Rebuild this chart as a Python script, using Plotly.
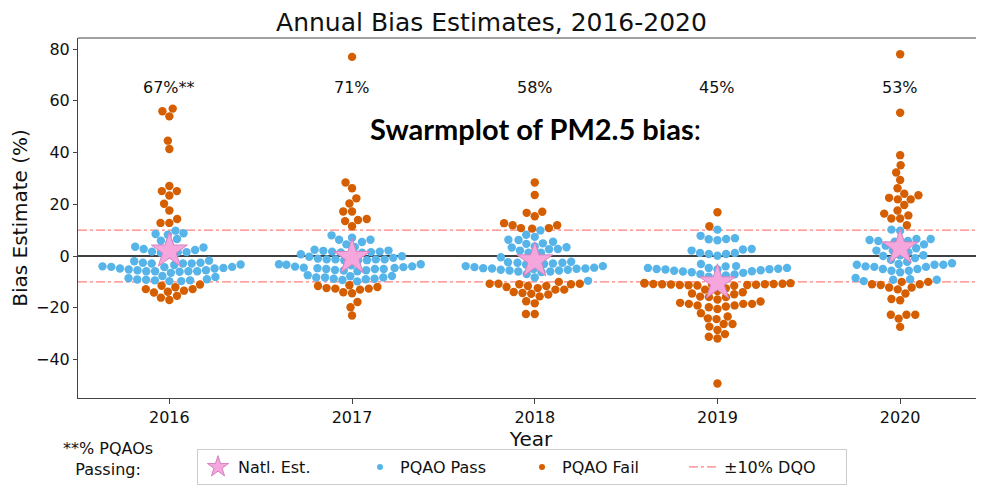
import numpy as np
import plotly.graph_objects as go

# ---------------- data ----------------
years = ["2016", "2017", "2018", "2019", "2020"]
pct_labels = ["67%**", "71%", "58%", "45%", "53%"]
natl_est = [2.0, -0.5, -1.8, -10.3, 3.2]

pass_2016 = [9.8, 8.8, 8.5, 8.2, 6.6, 5.9, 5.0, 3.6, 3.3, 2.7, 2.3, 1.7, 1.5, 1.5, 1.3, 0.5,
             -1.8, -2.0, -2.6, -2.6, -2.9, -2.9, -2.9, -3.3, -3.5,
             -4.0, -4.2, -4.2, -4.3, -4.6, -4.8, -4.8, -5.2, -5.5, -5.5, -5.9, -5.9, -5.9, -5.9, -6.1, -6.5,
             -7.7, -8.1, -8.6, -9.0, -9.1, -9.2, -9.4, -9.4, -9.7, -9.7]
fail_2016 = [57.0, 56.0, 54.0, 44.6, 41.4, 27.1, 25.1, 25.1, 23.4, 20.2, 17.6, 14.3, 12.8, 12.8,
             -11.0, -11.5, -12.1, -12.8, -12.8, -13.4, -13.8, -14.1, -15.4, -16.1, -17.0]

pass_2017 = [8.0, 7.1, 6.3, 6.3, 5.4, 4.5, 3.5,
             2.4, 2.1, 1.7, 1.4, 1.3, 1.7, 1.5, 2.0, 0.7, 0.5,
             -0.1, -1.0, -1.3, -1.3, -1.6, -1.6, -1.6, -1.3, -1.3, -0.7, -0.3,
             -3.2, -3.4, -4.1, -4.5, -4.7, -5.0, -5.4, -5.6, -5.9, -5.5, -5.0, -5.0, -4.6, -4.3, -4.0, -3.6, -3.2,
             -7.7, -8.3, -8.8, -9.3, -9.8, -8.8, -8.3, -8.3, -7.8, -7.4, -9.0]
fail_2017 = [77.0, 28.4, 26.2, 22.3, 20.3, 17.2, 17.2, 13.9, 13.5, 14.3, 11.5,
             -11.3, -11.6, -12.0, -12.4, -12.6, -12.6, -13.0, -14.0, -14.4, -17.8, -19.8, -23.0]

pass_2018 = [9.9, 8.2, 7.4, 6.2, 6.3, 4.7, 4.9, 5.5, 3.3, 2.7, 1.3, 3.7, 3.4, 1.3, 2.1, 2.6,
             -0.5, -1.0,
             -2.2, -2.6, -2.9, -3.3, -3.9, -3.9, -3.1, -2.6, -2.4,
             -4.8, -5.0, -5.3, -5.6, -6.2, -7.0, -8.3, -9.6, -6.0, -6.0, -5.6, -5.3, -4.9, -4.7, -4.5, -4.8, -4.3]
fail_2018 = [28.4, 23.6, 16.7, 15.4, 17.1, 11.9, 11.9, 10.6, 10.8, 10.8, 12.7,
             -10.0, -10.7, -10.7, -10.7, -10.9, -10.9, -11.6, -11.6, -12.0, -12.4, -13.0, -13.0, -13.9,
             -14.3, -14.6, -14.9, -15.6, -17.5, -18.3, -22.4, -22.4]

pass_2019 = [10.2, 7.8, 6.9, 6.6, 6.5, 6.1,
             2.7, 2.5, 2.1, 1.2, 1.2, 0.8, 0.8, 0.1,
             -3.1,
             -3.9, -4.0, -4.6, -4.6, -4.6, -4.9, -5.0, -5.1, -5.2, -5.2, -5.5, -5.7, -5.9, -6.0, -6.3,
             -6.5, -7.0, -7.1, -7.5, -8.0, -8.5]
fail_2019 = [16.9, 11.5,
             -10.4, -10.5, -10.6, -10.7, -10.8, -10.8, -10.9, -10.9, -11.0, -11.0, -11.1, -11.2, -11.2,
             -11.3, -11.4, -11.5,
             -12.5, -13.0, -13.5, -14.0, -14.5, -14.8,
             -15.7, -15.9, -15.9, -16.8, -17.6, -18.1, -18.5, -18.5, -18.5, -19.1, -19.1, -19.5, -19.8, -20.5,
             -22.1, -23.4, -24.1, -24.4, -26.3, -26.3, -27.3, -28.6, -30.2, -31.2, -31.9,
             -49.3]

pass_2020 = [10.2, 9.8, 6.6, 6.6, 6.2, 5.8, 5.8, 5.5,
             4.5, 4.0, 3.5, 3.0, 2.1, 2.1, 1.5, 0.3, 0.3, 0.0, -0.8, -1.5, -2.2,
             -2.8, -3.1, -3.4, -3.4, -3.4, -4.0, -4.2, -4.2, -5.0, -5.0, -5.7, -5.7, -6.3,
             -8.5, -9.0, -9.2, -9.2, -9.7]
fail_2020 = [78.0, 55.4, 39.0, 35.1, 32.3, 29.4, 26.2, 24.1, 23.5, 22.5, 21.9, 21.9, 19.7, 17.6,
             16.4, 15.7, 14.5, 14.5, 11.9,
             -10.0, -10.0, -10.9, -10.9, -11.2, -12.2, -12.2, -12.9, -14.5, -16.6, -17.1,
             -22.7, -22.7, -22.7, -24.2, -27.4]

pass_by_year = [pass_2016, pass_2017, pass_2018, pass_2019, pass_2020]
fail_by_year = [fail_2016, fail_2017, fail_2018, fail_2019, fail_2020]

# ---------------- geometry (page px; the page body adds an 8px margin) ----------------
OFF = 8
W, H = 984 - OFF, 487 - OFF
PLOT_L, PLOT_T, PLOT_B = 78, 38, 398      # plot area edges in page pixels
ML, MR, MT, MB = PLOT_L - OFF, 0, PLOT_T - OFF, H - (PLOT_B - OFF)
PW, PH = W - ML - MR, H - MT - MB
CAT_PX = 182.7
Y_RANGE = [-54.9, 84.3]
X_RANGE = [-0.5, -0.5 + PW / CAT_PX]
PX_PER_UNIT = PH / (Y_RANGE[1] - Y_RANGE[0])
DOT = 8.4
GUTTER = 0.4 * CAT_PX

BLUE = "#56B4E9"
ORANGE = "#D55E00"
PINK = "#F5A6DC"
DQO = "rgba(255,60,60,0.65)"
FONT = "DejaVu Sans"


def px_x(px):
    return (px - PLOT_L) / PW


def px_y(py):
    return (PLOT_B - py) / PH


def swarm_offsets(values, d, gutter):
    vals = np.asarray(values, dtype=float)
    order = np.argsort(vals, kind="stable")
    placed = []
    out = np.zeros(len(vals))
    for idx in order:
        y = vals[idx] * PX_PER_UNIT
        neigh = [(px, py) for px, py in placed if abs(py - y) < d]
        cands = [0.0]
        for px, py in neigh:
            dx = np.sqrt(max(d * d - (y - py) ** 2, 0.0)) * 1.05
            cands += [px - dx, px + dx]
        cands = sorted(cands, key=lambda c: abs(c))
        chosen = cands[-1]
        for c in cands:
            if all((c - px) ** 2 + (y - py) ** 2 >= d * d - 1e-6 for px, py in neigh):
                chosen = c
                break
        placed.append((chosen, y))
        out[idx] = chosen
    return np.clip(out, -gutter, gutter)


pass_x, pass_y, fail_x, fail_y = [], [], [], []
for i, (pv, fv) in enumerate(zip(pass_by_year, fail_by_year)):
    allv = list(pv) + list(fv)
    offs = swarm_offsets(allv, DOT, GUTTER) / CAT_PX
    n = len(pv)
    pass_x += list(i + offs[:n]); pass_y += list(pv)
    fail_x += list(i + offs[n:]); fail_y += list(fv)

fig = go.Figure()

fig.add_trace(go.Scatter(x=pass_x, y=pass_y, mode="markers", showlegend=False,
                         marker=dict(size=8.4, color=BLUE, line=dict(width=0))))
fig.add_trace(go.Scatter(x=fail_x, y=fail_y, mode="markers", showlegend=False,
                         marker=dict(size=8.4, color=ORANGE, line=dict(width=0))))
fig.add_trace(go.Scatter(x=list(range(len(years))), y=natl_est, mode="markers", showlegend=False,
                         marker=dict(symbol="star", size=27, color=PINK,
                                     line=dict(color="#D483C0", width=1))))

# legend-only entries
fig.add_trace(go.Scatter(x=[None], y=[None], mode="markers", name="Natl. Est.",
                         marker=dict(symbol="star", size=24, color=PINK,
                                     line=dict(color="#D483C0", width=1))))
fig.add_trace(go.Scatter(x=[None], y=[None], mode="markers", name="PQAO Pass",
                         marker=dict(size=6, color=BLUE)))
fig.add_trace(go.Scatter(x=[None], y=[None], mode="markers", name="PQAO Fail",
                         marker=dict(size=6, color=ORANGE)))
fig.add_trace(go.Scatter(x=[None], y=[None], mode="lines", name="±10% DQO",
                         line=dict(color=DQO, width=1.2, dash="dashdot")))

for lvl in (10, -10):
    fig.add_shape(type="line", xref="paper", x0=0, x1=1, yref="y", y0=lvl, y1=lvl,
                  line=dict(color=DQO, width=1.2, dash="dashdot"), layer="below")
fig.add_shape(type="line", xref="paper", x0=0, x1=1, yref="y", y0=0, y1=0,
              line=dict(color="black", width=1.5), layer="below")
# top spine
fig.add_shape(type="line", xref="paper", yref="paper", x0=0, x1=1, y0=1, y1=1,
              line=dict(color="#444", width=1))

for i, lab in enumerate(pct_labels):
    fig.add_annotation(x=i, y=65, text=lab, showarrow=False,
                       font=dict(family=FONT, size=16, color="#111"))

fig.add_annotation(xref="paper", yref="paper", x=px_x(535.5), y=px_y(128),
                   xanchor="center", yanchor="middle",
                   text="<b>Swarmplot of PM2.5 bias</b>:", showarrow=False,
                   font=dict(family="Lato", size=29, color="black"))

fig.add_annotation(xref="paper", yref="paper", x=px_x(108), y=px_y(459),
                   xanchor="center", yanchor="middle",
                   text="**% PQAOs<br>Passing:", showarrow=False, align="center",
                   font=dict(family=FONT, size=16, color="#111"))

fig.update_layout(
    width=W, height=H,
    margin=dict(l=ML, r=MR, t=MT, b=MB, autoexpand=False),
    paper_bgcolor="white", plot_bgcolor="white",
    font=dict(family=FONT, size=16, color="#111"),
    title=dict(text="Annual Bias Estimates, 2016-2020", x=(491.5 - OFF) / W, xanchor="center",
               y=1 - (22 - OFF) / H, yanchor="middle", font=dict(family=FONT, size=25, color="#111")),
    xaxis=dict(range=X_RANGE, tickvals=list(range(len(years))), ticktext=years,
               showgrid=False, zeroline=False, showline=True, linecolor="#444", linewidth=1,
               ticks="outside", ticklen=5, tickcolor="#444",
               title=dict(text="Year", font=dict(size=20), standoff=2)),
    yaxis=dict(range=Y_RANGE, tickvals=[-40, -20, 0, 20, 40, 60, 80],
               showgrid=False, zeroline=False, showline=True, linecolor="#444", linewidth=1,
               ticks="outside", ticklen=4, tickcolor="#444",
               title=dict(text="Bias Estimate (%)", font=dict(size=20), standoff=6)),
    legend=dict(orientation="h", x=px_x(197), xanchor="left", y=px_y(449), yanchor="top",
                bordercolor="#cccccc", borderwidth=1, bgcolor="white",
                entrywidth=117, entrywidthmode="pixels",
                font=dict(family=FONT, size=16, color="#111"), itemsizing="trace"),
)

fig.write_html("out.html")
